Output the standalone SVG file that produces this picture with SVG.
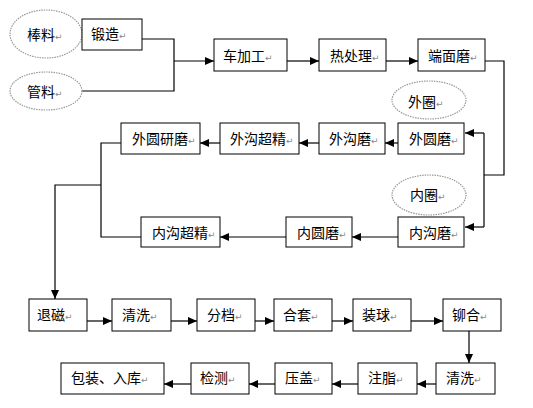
<svg xmlns="http://www.w3.org/2000/svg" width="533" height="408" viewBox="0 0 533 408">
<style>
.box{fill:#fff;stroke:#000;stroke-width:1}
.ell{fill:#fff;stroke:#999;stroke-width:1.2;stroke-dasharray:1.5 1}
.t{font-family:"Noto Sans CJK SC","Noto Sans CJK JP",sans-serif;font-size:14px;fill:#000}
.r{font-family:"DejaVu Sans",sans-serif;font-size:9px;fill:#888}
.ln{fill:none;stroke:#000;stroke-width:1.2}
</style>
<defs>
<marker id="ah" markerUnits="userSpaceOnUse" markerWidth="10" markerHeight="10" refX="9" refY="4" orient="auto">
<path d="M0,0 L9,4 L0,8 Z" fill="#000"/>
</marker>
</defs>
<rect width="533" height="408" fill="#fff"/>
<g id="connectors">
<polyline class="ln" points="142,39 174,39 174,91 82,91"/>
<line class="ln" x1="174" y1="61" x2="214" y2="61" marker-end="url(#ah)"/>
<line class="ln" x1="287" y1="61" x2="319" y2="61" marker-end="url(#ah)"/>
<line class="ln" x1="386" y1="61" x2="418" y2="61" marker-end="url(#ah)"/>
<polyline class="ln" points="485,61 504,61 504,175 484,175"/>
<line class="ln" x1="484" y1="133" x2="484" y2="227"/>
<line class="ln" x1="484" y1="133" x2="465" y2="133" marker-end="url(#ah)"/>
<line class="ln" x1="484" y1="227" x2="465" y2="227" marker-end="url(#ah)"/>
<line class="ln" x1="398" y1="143" x2="385" y2="143" marker-end="url(#ah)"/>
<line class="ln" x1="319" y1="143" x2="299" y2="143" marker-end="url(#ah)"/>
<line class="ln" x1="220" y1="143" x2="200" y2="143" marker-end="url(#ah)"/>
<line class="ln" x1="398" y1="237" x2="352" y2="237" marker-end="url(#ah)"/>
<line class="ln" x1="286" y1="237" x2="220" y2="237" marker-end="url(#ah)"/>
<polyline class="ln" points="121,143 101,143 101,237 141,237"/>
<polyline class="ln" points="101,185 55,185 55,299" marker-end="url(#ah)"/>
<line class="ln" x1="87" y1="321" x2="112" y2="321" marker-end="url(#ah)"/>
<line class="ln" x1="171" y1="321" x2="197" y2="321" marker-end="url(#ah)"/>
<line class="ln" x1="255" y1="321" x2="274" y2="321" marker-end="url(#ah)"/>
<line class="ln" x1="332" y1="321" x2="353" y2="321" marker-end="url(#ah)"/>
<line class="ln" x1="411" y1="321" x2="443" y2="321" marker-end="url(#ah)"/>
<line class="ln" x1="469" y1="331" x2="469" y2="363" marker-end="url(#ah)"/>
<line class="ln" x1="436" y1="384" x2="417" y2="384" marker-end="url(#ah)"/>
<line class="ln" x1="358" y1="384" x2="332" y2="384" marker-end="url(#ah)"/>
<line class="ln" x1="275" y1="384" x2="249" y2="384" marker-end="url(#ah)"/>
<line class="ln" x1="191" y1="384" x2="164" y2="384" marker-end="url(#ah)"/>
</g>
<g id="n-bangliao"><ellipse class="ell" cx="46" cy="34" rx="36" ry="24"/><text class="t" x="27" y="40">棒料<tspan class="r">↵</tspan></text></g>
<g id="n-guanliao"><ellipse class="ell" cx="46" cy="91" rx="36" ry="19"/><text class="t" x="27" y="97">管料<tspan class="r">↵</tspan></text></g>
<g id="n-duanzao"><rect class="box" x="82" y="19" width="60" height="31"/><text class="t" x="91" y="39">锻造<tspan class="r">↵</tspan></text></g>
<g id="n-chejiagong"><rect class="box" x="214" y="39" width="73" height="32"/><text class="t" x="223" y="61">车加工<tspan class="r">↵</tspan></text></g>
<g id="n-rechuli"><rect class="box" x="319" y="39" width="67" height="32"/><text class="t" x="330" y="61">热处理<tspan class="r">↵</tspan></text></g>
<g id="n-duanmianmo"><rect class="box" x="418" y="39" width="67" height="32"/><text class="t" x="428" y="61">端面磨<tspan class="r">↵</tspan></text></g>
<g id="n-waiquan"><ellipse class="ell" cx="429" cy="100" rx="37" ry="19"/><text class="t" x="408" y="107">外圈<tspan class="r">↵</tspan></text></g>
<g id="n-waiyuanmo"><rect class="box" x="398" y="123" width="66" height="31"/><text class="t" x="409" y="144">外圆磨<tspan class="r">↵</tspan></text></g>
<g id="n-waigoumo"><rect class="box" x="319" y="123" width="66" height="31"/><text class="t" x="329" y="144">外沟磨<tspan class="r">↵</tspan></text></g>
<g id="n-waigouchaojing"><rect class="box" x="220" y="123" width="79" height="31"/><text class="t" x="230" y="144">外沟超精<tspan class="r">↵</tspan></text></g>
<g id="n-waiyuanyanmo"><rect class="box" x="121" y="123" width="79" height="31"/><text class="t" x="132" y="144">外圆研磨<tspan class="r">↵</tspan></text></g>
<g id="n-neiquan"><ellipse class="ell" cx="429" cy="195" rx="37" ry="20"/><text class="t" x="410" y="200">内圈<tspan class="r">↵</tspan></text></g>
<g id="n-neigoumo"><rect class="box" x="398" y="217" width="66" height="30"/><text class="t" x="409" y="238">内沟磨<tspan class="r">↵</tspan></text></g>
<g id="n-neiyuanmo"><rect class="box" x="286" y="217" width="66" height="30"/><text class="t" x="297" y="238">内圆磨<tspan class="r">↵</tspan></text></g>
<g id="n-neigouchaojing"><rect class="box" x="141" y="217" width="79" height="30"/><text class="t" x="152" y="238">内沟超精<tspan class="r">↵</tspan></text></g>
<g id="n-tuici"><rect class="box" x="29" y="299" width="58" height="32"/><text class="t" x="37" y="320">退磁<tspan class="r">↵</tspan></text></g>
<g id="n-qingxi1"><rect class="box" x="112" y="299" width="59" height="32"/><text class="t" x="122" y="320">清洗<tspan class="r">↵</tspan></text></g>
<g id="n-fendang"><rect class="box" x="197" y="299" width="58" height="32"/><text class="t" x="207" y="320">分档<tspan class="r">↵</tspan></text></g>
<g id="n-hetao"><rect class="box" x="274" y="299" width="58" height="32"/><text class="t" x="283" y="320">合套<tspan class="r">↵</tspan></text></g>
<g id="n-zhuangqiu"><rect class="box" x="353" y="299" width="58" height="32"/><text class="t" x="362" y="320">装球<tspan class="r">↵</tspan></text></g>
<g id="n-maohe"><rect class="box" x="443" y="299" width="58" height="32"/><text class="t" x="452" y="320">铆合<tspan class="r">↵</tspan></text></g>
<g id="n-qingxi2"><rect class="box" x="436" y="363" width="59" height="31"/><text class="t" x="446" y="383">清洗<tspan class="r">↵</tspan></text></g>
<g id="n-zhuzhi"><rect class="box" x="358" y="363" width="59" height="31"/><text class="t" x="368" y="383">注脂<tspan class="r">↵</tspan></text></g>
<g id="n-yagai"><rect class="box" x="275" y="363" width="57" height="31"/><text class="t" x="285" y="383">压盖<tspan class="r">↵</tspan></text></g>
<g id="n-jiance"><rect class="box" x="191" y="363" width="58" height="31"/><text class="t" x="200" y="383">检测<tspan class="r">↵</tspan></text></g>
<g id="n-baozhuang"><rect class="box" x="61" y="363" width="103" height="31"/><text class="t" x="71" y="383">包装、入库<tspan class="r">↵</tspan></text></g>
</svg>
